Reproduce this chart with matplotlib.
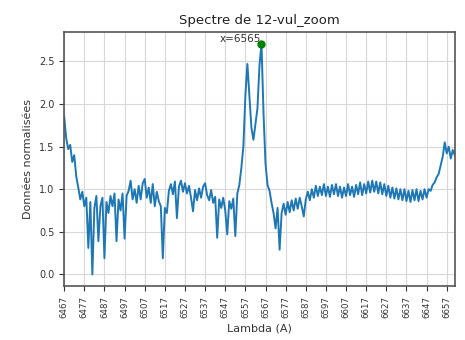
import numpy as np
import matplotlib
matplotlib.use("Agg")
import matplotlib.pyplot as plt

start_lambda = 6467
flux = [
    1.85, 1.60, 1.47, 1.52, 1.32, 1.40, 1.15, 1.02, 0.88, 0.97,
    0.80, 0.90, 0.31, 0.85, 0.00, 0.78, 0.92, 0.39, 0.80, 0.90,
    0.19, 0.85, 0.72, 0.92, 0.80, 0.95, 0.39, 0.88, 0.75, 0.95,
    0.42, 0.92, 0.98, 1.10, 0.88, 1.00, 0.84, 1.04, 0.88, 1.07,
    1.12, 0.90, 1.02, 0.84, 1.06, 0.80, 0.97, 0.86, 0.80, 0.19,
    0.78, 0.72, 0.98, 1.06, 0.94, 1.09, 0.66, 1.03, 1.10, 0.97,
    1.07, 0.95, 1.04, 0.90, 0.74, 0.99, 0.87, 1.01, 0.90, 1.03,
    1.07, 0.93, 0.87, 0.99, 0.84, 0.91, 0.43, 0.88, 0.78, 0.90,
    0.75, 0.47, 0.86, 0.77, 0.89, 0.45, 0.95, 1.05, 1.25, 1.50,
    2.10, 2.47, 2.10, 1.72, 1.58, 1.76, 1.95, 2.45, 2.71, 1.90,
    1.30, 1.05, 0.98, 0.84, 0.72, 0.54, 0.78, 0.29, 0.72, 0.83,
    0.70, 0.85, 0.73, 0.87, 0.75, 0.89, 0.77, 0.90, 0.80, 0.68,
    0.88, 0.97, 0.87, 1.00, 0.90, 1.04, 0.92, 1.03, 0.93, 1.06,
    0.92, 1.03, 0.91, 1.05, 0.94, 1.06, 0.92, 1.03, 0.90, 1.02,
    0.92, 1.06, 0.93, 1.03, 0.91, 1.05, 0.94, 1.08, 0.93, 1.06,
    0.95, 1.09, 0.96, 1.10, 0.97, 1.09, 0.95, 1.08, 0.94, 1.06,
    0.92, 1.04, 0.90, 1.02, 0.89, 1.01, 0.88, 1.00, 0.87, 1.00,
    0.86, 0.98, 0.85, 0.99, 0.87, 1.00, 0.86, 0.98, 0.88, 1.00,
    0.90, 1.00, 0.98, 1.05, 1.08, 1.14, 1.18, 1.28, 1.38, 1.55,
    1.42, 1.50, 1.36, 1.46, 1.40,
]
peak_lambda = 6565
peak_value = 2.71
xtick_values = list(range(6467, 6658, 10))

lambdas = np.arange(start_lambda, start_lambda + len(flux))

fig = plt.figure(figsize=(4.65, 3.4), dpi=100)
ax = fig.add_axes([0.138, 0.159, 0.840, 0.747])
ax.plot(lambdas, flux, color="#1f77b4", lw=1.4)
ax.plot([peak_lambda], [peak_value], "o", color="green", ms=5, zorder=3)
ax.text(peak_lambda, peak_value, "x=%d" % peak_lambda, ha="right", va="bottom",
        fontsize=7.5, color="#333333")
ax.set_xlim(lambdas[0], lambdas[-1])
ax.set_xticks(xtick_values)
ax.set_xticklabels([str(v) for v in xtick_values], rotation=90)
ax.tick_params(axis="x", labelsize=6.2, colors="#333333")
ax.tick_params(axis="y", labelsize=7, colors="#333333")
ax.grid(True, color="#d8d8d8", lw=0.8)
ax.set_axisbelow(True)
for s in ax.spines.values():
    s.set_color("#555555")
    s.set_linewidth(1.2)
ax.set_title("Spectre de 12-vul_zoom", fontsize=9.5, color="#222222")
ax.set_xlabel("Lambda (A)", fontsize=8, color="#333333")
ax.set_ylabel("Données normalisées", fontsize=8, color="#333333")
fig.savefig("out.png", dpi=100)
